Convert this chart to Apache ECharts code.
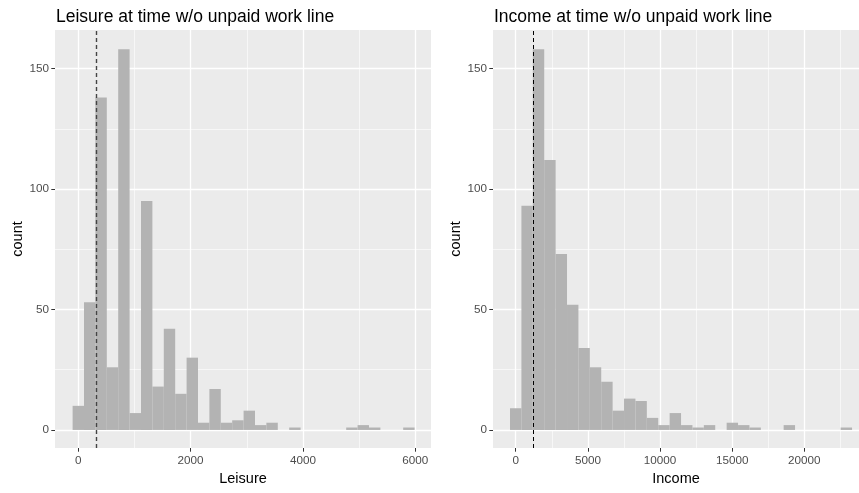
<!DOCTYPE html>
<html><head><meta charset="utf-8">
<script src="https://cdn.jsdelivr.net/npm/echarts@6/dist/echarts.min.js"></script>
<style>html,body{margin:0;padding:0;background:#fff}#c{width:859px;height:493px}</style>
</head><body><div id="c"></div>
<script>
const leisureCounts = [10,53,138,26,158,7,95,18,42,15,30,3,17,3,4,8,2,3,0,1,0,0,0,0,1,2,1,0,0,1];
const leisureBinWidth = 203;
const leisureFirstCenter = 0;
const leisureLine = 315;
const leisureTicks = [0,2000,4000,6000];
const leisureMinorTicks = [1000,3000,5000];

const incomeCounts = [9,93,158,112,73,52,34,26,20,8,13,12,5,2,7,2,1,2,0,3,2,1,0,0,2,0,0,0,0,1];
const incomeBinWidth = 790;
const incomeFirstCenter = 0;
const incomeLine = 1200;
const incomeTicks = [0,5000,10000,15000,20000];
const incomeMinorTicks = [2500,7500,12500,17500,22500];

const countTicks = [0,50,100,150];
const countMinorTicks = [25,75,125];

const titles = ['Leisure at time w/o unpaid work line','Income at time w/o unpaid work line'];
const xNames = ['Leisure','Income'];
const yName = 'count';

const FONT = '"Liberation Sans", Arial, sans-serif';
const plain = v => String(v);

function binData(counts, first, w){
  return counts.map((n,k)=>[first + k*w, n]);
}
function makeRender(w){
  return function(params, api){
    const c = api.value(0), n = api.value(1);
    if (!n) return null;
    const p0 = api.coord([c - w/2, n]);
    const p1 = api.coord([c + w/2, 0]);
    return {type:'rect', shape:{x:p0[0], y:p0[1], width:p1[0]-p0[0], height:p1[1]-p0[1]},
            style:{fill:'#B3B3B3'}};
  };
}
function majorX(grid, min, max, ticks, name){
  return {type:'value', gridIndex:grid, position:'bottom', min:min, max:max,
    name:name, nameLocation:'middle', nameGap:22,
    nameTextStyle:{color:'#000', fontSize:14.5, fontFamily:FONT},
    axisLine:{show:false, onZero:false},
    axisTick:{show:true, length:3.7, lineStyle:{color:'#333', width:1}, customValues:ticks},
    axisLabel:{color:'#4D4D4D', fontSize:11.7, fontFamily:FONT, margin:7, customValues:ticks, formatter:plain},
    splitLine:{show:true, lineStyle:{color:'#fff', width:1.3}}};
}
function minorX(grid, min, max, ticks){
  return {type:'value', gridIndex:grid, position:'bottom', min:min, max:max,
    axisLine:{show:false, onZero:false}, axisTick:{show:false, customValues:ticks},
    axisLabel:{show:false, customValues:ticks},
    splitLine:{show:true, lineStyle:{color:'#fff', width:0.6}}};
}
const yMin = -7.5, yMax = 166;
function majorY(grid, gap){
  return {type:'value', gridIndex:grid, position:'left', min:yMin, max:yMax,
    name:yName, nameLocation:'middle', nameGap:gap, nameRotate:90,
    nameTextStyle:{color:'#000', fontSize:14.5, fontFamily:FONT},
    axisLine:{show:false, onZero:false},
    axisTick:{show:true, length:3.7, lineStyle:{color:'#333', width:1}, customValues:countTicks},
    axisLabel:{color:'#4D4D4D', fontSize:11.7, fontFamily:FONT, margin:6, customValues:countTicks, formatter:plain},
    splitLine:{show:true, lineStyle:{color:'#fff', width:1.3}}};
}
function minorY(grid){
  return {type:'value', gridIndex:grid, position:'left', min:yMin, max:yMax,
    axisLine:{show:false, onZero:false}, axisTick:{show:false, customValues:countMinorTicks},
    axisLabel:{show:false, customValues:countMinorTicks},
    splitLine:{show:true, lineStyle:{color:'#fff', width:0.6}}};
}

const chart = echarts.init(document.getElementById('c'), null, {renderer:'canvas'});
chart.setOption({
  animation:false,
  backgroundColor:'#fff',
  title:[
    {text:titles[0], left:51, top:3, textStyle:{fontFamily:FONT, fontSize:17.5, fontWeight:'normal', color:'#000'}},
    {text:titles[1], left:489, top:3, textStyle:{fontFamily:FONT, fontSize:17.5, fontWeight:'normal', color:'#000'}}
  ],
  grid:[
    {left:55, top:30, width:376, height:418, show:true, backgroundColor:'#EBEBEB', borderWidth:0, outerBoundsMode:'none', containLabel:false},
    {left:493, top:30, width:366, height:418, show:true, backgroundColor:'#EBEBEB', borderWidth:0, outerBoundsMode:'none', containLabel:false}
  ],
  xAxis:[
    minorX(0, -415, 6281, leisureMinorTicks),
    majorX(0, -415, 6281, leisureTicks, xNames[0]),
    minorX(1, -1574, 23786, incomeMinorTicks),
    majorX(1, -1574, 23786, incomeTicks, xNames[1])
  ],
  yAxis:[
    minorY(0), majorY(0, 30),
    minorY(1), majorY(1, 29)
  ],
  series:[
    {type:'custom', xAxisIndex:1, yAxisIndex:1, encode:{x:0,y:1},
     data:binData(leisureCounts, leisureFirstCenter, leisureBinWidth),
     renderItem:makeRender(leisureBinWidth),
     markLine:{silent:true, symbol:'none', label:{show:false},
       lineStyle:{color:'#444', width:1.4, type:[4,3]},
       data:[{xAxis:leisureLine}]}},
    {type:'custom', xAxisIndex:3, yAxisIndex:3, encode:{x:0,y:1},
     data:binData(incomeCounts, incomeFirstCenter, incomeBinWidth),
     renderItem:makeRender(incomeBinWidth),
     markLine:{silent:true, symbol:'none', label:{show:false},
       lineStyle:{color:'#000', width:1, type:[4,3]},
       data:[{xAxis:incomeLine}]}}
  ]
});
</script></body></html>
